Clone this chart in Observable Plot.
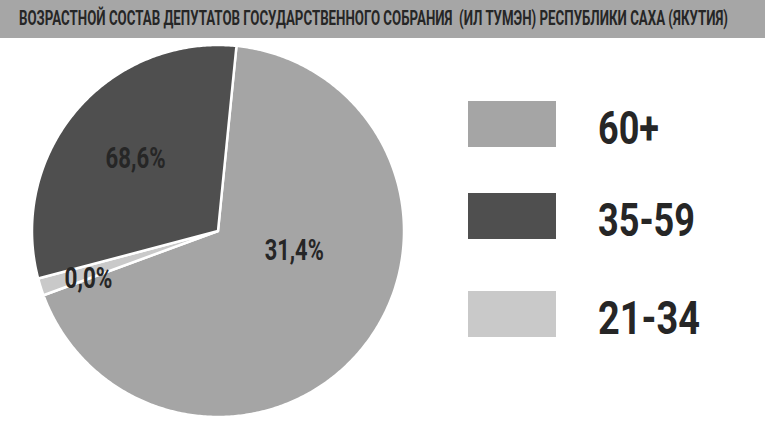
<!DOCTYPE html>
<html><head><meta charset="utf-8">
<script src="https://cdn.jsdelivr.net/npm/d3@7"></script>
<script src="https://cdn.jsdelivr.net/npm/@observablehq/plot@0.6"></script>
<style>
html,body{margin:0;padding:0;background:#fff;width:765px;height:423px;overflow:hidden;font-family:Roboto,"Noto Sans",sans-serif;}
#title{height:38px;background:#a6a6a6;position:relative;}
#title span{position:absolute;left:19px;top:8px;font-weight:700;font-size:21px;line-height:21px;color:#262626;white-space:pre;transform-origin:0 0;}
#wrap{position:relative;width:765px;height:385px;}
.sw{position:absolute;left:468px;width:88px;height:46px;}
.lt{position:absolute;left:598px;font-weight:700;font-size:46px;line-height:46px;color:#262626;white-space:pre;transform-origin:0 0;}
</style></head><body>
<div id="title"><span id="ttl"></span></div>
<div id="wrap"></div>
<script>
// ---- data ----
const titleText = "ВОЗРАСТНОЙ СОСТАВ ДЕПУТАТОВ ГОСУДАРСТВЕННОГО СОБРАНИЯ  (ИЛ ТУМЭН) РЕСПУБЛИКИ САХА (ЯКУТИЯ)";
const sliceCategories = ["60+", "21-34", "35-59"];      // clockwise drawing order
const sliceShares = [67.8, 1.5, 30.7];                   // share of the circle as drawn
const sliceLabels = ["31,4%", "0,0%", "68,6%"];          // label printed on each slice
const legendCategories = ["60+", "35-59", "21-34"];

// ---- styles / layout ----
const palette = ["#a5a5a5", "#4f4f4f", "#c9c9c9"];       // for legendCategories
const W = 765, H = 385;
const cx = 217.5, cy = 192.5, R = 186;
const startDeg = 5.7;
const labelFrac = [0.406, 0.0, 0.507];
const labelRad = [0.424, 0.742, 0.589];
const labelWidth = [59, 48, 60];
const legendTop = [63, 155, 253];
const legendTextWidth = [61, 97, 102];

const start = startDeg * Math.PI / 180;
const arcs = d3.pie().sort(null).value(d => d).startAngle(start).endAngle(start + 2 * Math.PI)(sliceShares);

const pts = [];
arcs.forEach((a, i) => {
  const key = sliceCategories[i];
  pts.push({key, x: 0, y: 0});
  const n = Math.max(2, Math.ceil((a.endAngle - a.startAngle) / 0.01));
  for (let k = 0; k <= n; k++) {
    const t = a.startAngle + (a.endAngle - a.startAngle) * k / n;
    pts.push({key, x: Math.sin(t), y: Math.cos(t)});
  }
});
const labelData = arcs.map((a, i) => {
  const t = a.startAngle + (a.endAngle - a.startAngle) * labelFrac[i];
  return {text: sliceLabels[i], x: labelRad[i] * Math.sin(t), y: labelRad[i] * Math.cos(t), w: labelWidth[i]};
});

const chart = Plot.plot({
  width: W, height: H, margin: 0,
  style: {background: "transparent", overflow: "visible"},
  x: {domain: [-cx / R, (W - cx) / R], axis: null},
  y: {domain: [-(H - cy) / R, cy / R], axis: null},
  color: {domain: legendCategories, range: palette},
  marks: [
    Plot.line(pts, {x: "x", y: "y", z: "key", fill: "key", stroke: "#ffffff", strokeWidth: 2.5, strokeLinejoin: "round", curve: "linear-closed"}),
    Plot.text(labelData, {x: "x", y: "y", text: "text", fill: "#262626", fontSize: 29, fontWeight: 700, fontFamily: "Roboto"})
  ]
});
document.getElementById("wrap").appendChild(chart);

// condense pie labels
d3.select(chart).selectAll("text").each(function() {
  const t = this.textContent.trim();
  const d = labelData.find(l => l.text === t);
  if (d) { this.setAttribute("textLength", d.w); this.setAttribute("lengthAdjust", "spacingAndGlyphs"); }
});

// legend
const wrap = document.getElementById("wrap");
legendCategories.forEach((c, i) => {
  const sw = document.createElement("div");
  sw.className = "sw"; sw.style.top = legendTop[i] + "px"; sw.style.background = palette[i];
  wrap.appendChild(sw);
  const lt = document.createElement("span");
  lt.className = "lt"; lt.textContent = c; lt.style.top = (legendTop[i] + 4) + "px";
  wrap.appendChild(lt);
  const w = lt.getBoundingClientRect().width;
  lt.style.transform = `scaleX(${legendTextWidth[i] / w})`;
});

// title
const ttl = document.getElementById("ttl");
ttl.textContent = titleText;
const tw = ttl.getBoundingClientRect().width;
ttl.style.transform = `scaleX(${709 / tw})`;
</script>
</body></html>
